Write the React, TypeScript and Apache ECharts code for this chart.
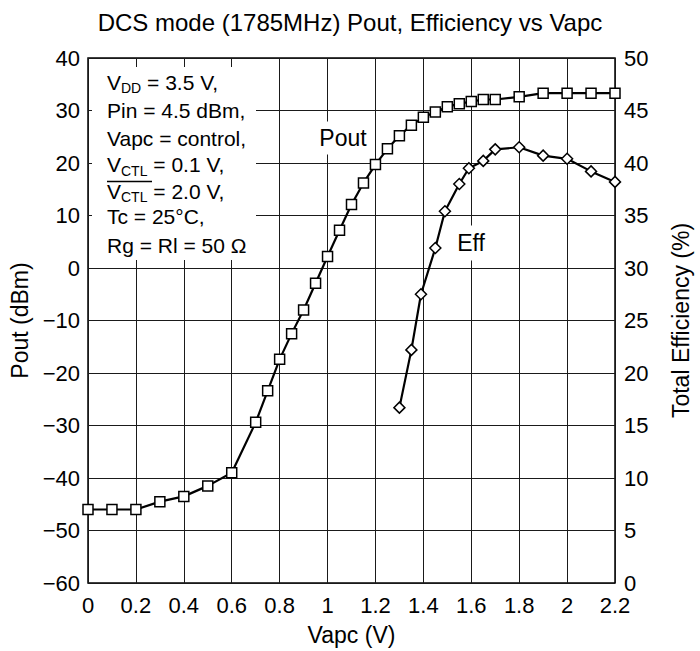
import React, { useEffect, useRef } from "react";
import * as echarts from "echarts";

const FONT = "'Liberation Sans', Arial, Helvetica, sans-serif";

const titleText = "DCS mode (1785MHz) Pout, Efficiency vs Vapc";
const xName = "Vapc (V)";
const yLeftName = "Pout (dBm)";
const yRightName = "Total Efficiency (%)";

const vapcPout = [0, 0.1, 0.2, 0.3, 0.4, 0.5, 0.6, 0.7, 0.75, 0.8, 0.85, 0.9, 0.95, 1.0, 1.05, 1.1, 1.15, 1.2, 1.25, 1.3, 1.35, 1.4, 1.45, 1.5, 1.55, 1.6, 1.65, 1.7, 1.8, 1.9, 2.0, 2.1, 2.2];
const pout = [-46, -46, -46, -44.5, -43.5, -41.5, -39, -29.4, -23.4, -17.4, -12.5, -8, -2.9, 2.2, 7.2, 12.1, 16.2, 19.7, 22.7, 25.2, 27.2, 28.7, 29.7, 30.7, 31.3, 31.7, 32.1, 32.1, 32.6, 33.3, 33.3, 33.3, 33.3];

const vapcEff = [1.3, 1.35, 1.39, 1.45, 1.49, 1.55, 1.59, 1.65, 1.7, 1.8, 1.9, 2.0, 2.1, 2.2];
const eff = [16.7, 22.2, 27.5, 31.9, 35.4, 38.0, 39.5, 40.2, 41.3, 41.5, 40.7, 40.4, 39.2, 38.2];

const conditionLines = [
  "V{sub|DD} = 3.5 V,",
  "Pin = 4.5 dBm,",
  "Vapc = control,",
  "V{sub|CTL} = 0.1 V,",
  "V{sub|CTL} = 2.0 V,",
  "Tc = 25°C,",
  "Rg = Rl = 50 Ω",
];
const conditionY = [82, 110.5, 138, 164.5, 191.3, 216.8, 245.3];

const minus = (v: number) => (v < 0 ? "\u2212" + Math.abs(v) : String(v));

export default function App() {
  const ref = useRef<HTMLDivElement>(null);
  useEffect(() => {
    document.body.style.margin = "0";
    const chart = echarts.init(ref.current!, null, { renderer: "svg" });
    const textBase = { fontFamily: FONT, fill: "#000" };
    chart.setOption({
      animation: false,
      backgroundColor: "#fff",
      textStyle: { fontFamily: FONT, color: "#000" },
      grid: {
        left: 88,
        right: 82,
        top: 58,
        bottom: 65,
        show: true,
        borderColor: "#000",
        borderWidth: 1.5,
        backgroundColor: "transparent",
      },
      xAxis: {
        type: "value",
        min: 0,
        max: 2.2,
        interval: 0.2,
        name: xName,
        nameLocation: "middle",
        nameGap: 40,
        nameTextStyle: { fontSize: 23, color: "#000", fontFamily: FONT },
        axisLine: { show: false },
        axisTick: { show: false },
        axisLabel: { fontSize: 22, color: "#000", margin: 11, fontFamily: FONT },
        splitLine: { show: true, lineStyle: { color: "#1a1a1a", width: 1 } },
      },
      yAxis: [
        {
          type: "value",
          min: -60,
          max: 40,
          interval: 10,
          name: yLeftName,
          nameLocation: "middle",
          nameGap: 56,
          nameTextStyle: { fontSize: 23, color: "#000", fontFamily: FONT },
          axisLine: { show: false },
          axisTick: { show: false },
          axisLabel: { fontSize: 22, color: "#000", margin: 8, fontFamily: FONT, formatter: minus },
          splitLine: { show: true, lineStyle: { color: "#1a1a1a", width: 1 } },
        },
        {
          type: "value",
          min: 0,
          max: 50,
          interval: 5,
          position: "right",
          name: yRightName,
          nameLocation: "middle",
          nameGap: 54,
          nameRotate: 90,
          nameTextStyle: { fontSize: 23, color: "#000", fontFamily: FONT },
          axisLine: { show: false },
          axisTick: { show: false },
          axisLabel: { fontSize: 22, color: "#000", margin: 9, fontFamily: FONT },
          splitLine: { show: false },
        },
      ],
      series: [
        {
          name: "Pout",
          type: "line",
          yAxisIndex: 0,
          data: vapcPout.map((x, i) => [x, pout[i]]),
          symbol: "rect",
          symbolSize: 10,
          showAllSymbol: true,
          lineStyle: { color: "#000", width: 2.2 },
          itemStyle: { color: "#fff", borderColor: "#000", borderWidth: 1.5 },
          z: 3,
        },
        {
          name: "Eff",
          type: "line",
          yAxisIndex: 1,
          data: vapcEff.map((x, i) => [x, eff[i]]),
          symbol: "diamond",
          symbolSize: 11,
          showAllSymbol: true,
          lineStyle: { color: "#000", width: 2.2 },
          itemStyle: { color: "#fff", borderColor: "#000", borderWidth: 1.5 },
          z: 3,
        },
      ],
      graphic: [
        {
          type: "text",
          x: 350,
          y: 22,
          z: 10,
          style: { ...textBase, text: titleText, fontSize: 24, align: "center", verticalAlign: "middle" },
        },
        {
          type: "rect",
          z: 5,
          shape: { x: 92, y: 67, width: 164, height: 193 },
          style: { fill: "#fff" },
        },
        ...conditionLines.map((t, i) => ({
          type: "text",
          x: 107,
          y: conditionY[i],
          z: 6,
          style: {
            ...textBase,
            text: t,
            fontSize: 21,
            align: "left",
            verticalAlign: "middle",
            rich: {
              sub: { fontSize: 14, fontFamily: FONT, fill: "#000", padding: [12, 0, 0, 0] },
            },
          },
        })),
        {
          type: "line",
          z: 6,
          shape: { x1: 107, y1: 181.5, x2: 152, y2: 181.5 },
          style: { stroke: "#000", lineWidth: 1.5 },
        },
        {
          type: "text",
          x: 343,
          y: 138,
          z: 6,
          style: {
            ...textBase,
            text: "Pout",
            fontSize: 23,
            align: "center",
            verticalAlign: "middle",
            backgroundColor: "#fff",
            padding: [5, 3, 5, 3],
          },
        },
        {
          type: "text",
          x: 471,
          y: 243,
          z: 6,
          style: {
            ...textBase,
            text: "Eff",
            fontSize: 23,
            align: "center",
            verticalAlign: "middle",
            backgroundColor: "#fff",
            padding: [6, 4, 6, 4],
          },
        },
      ],
    });
    return () => chart.dispose();
  }, []);
  return <div ref={ref} style={{ width: 700, height: 651 }} />;
}
